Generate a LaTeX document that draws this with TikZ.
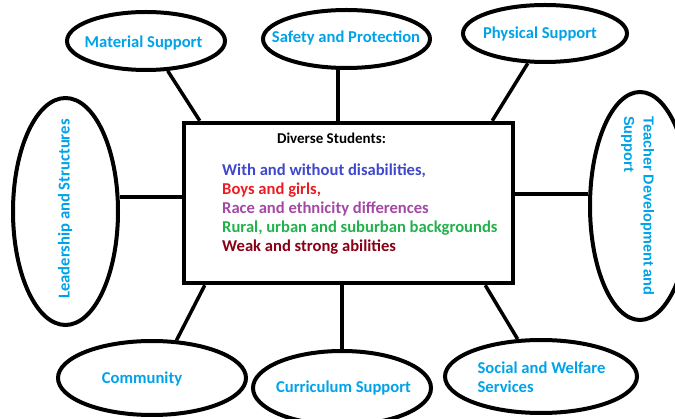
\documentclass[tikz,border=0pt]{standalone}
\usepackage{fontspec}
\setmainfont{Carlito}
\newfontfamily\arialfont{Liberation Sans}
\usetikzlibrary{shapes.geometric,calc}
\definecolor{lblue}{HTML}{00A2E8}
\definecolor{cone}{HTML}{3F48CC}
\definecolor{ctwo}{HTML}{ED1C24}
\definecolor{cthree}{HTML}{A349A4}
\definecolor{cfour}{HTML}{22B14C}
\definecolor{cfive}{HTML}{880015}
\tikzset{
  oval/.style={draw=black, line width=4pt, ellipse, inner sep=0pt},
  lbl/.style={text=lblue, font=\fontsize{16.6}{19}\selectfont\bfseries, inner sep=0pt, align=left},
  link/.style={draw=black, line width=3.5pt},
  centerbox/.style={draw=black, line width=4.5pt, rectangle, inner sep=0pt}
}
\begin{document}
\begin{tikzpicture}[x=1pt,y=-1pt]
\useasboundingbox (0,0) rectangle (675,419);
% central box
\node[centerbox, minimum width=329pt, minimum height=160pt] (box) at (348.5,203) {};
\node[inner sep=0pt, font=\fontsize{15}{16}\selectfont\bfseries] (title) at (331.5,138) {Diverse Students:};
\node[inner sep=0pt, anchor=west, align=left, font=\fontsize{16.6}{19}\selectfont\bfseries] (list) at (222,209)
  {\textcolor{cone}{With and without disabilities,}\\
   \textcolor{ctwo}{Boys and girls,}\\
   \textcolor{cthree}{Race and ethnicity differences}\\
   \textcolor{cfour}{Rural, urban and suburban backgrounds}\\
   \textcolor{cfive}{Weak and strong abilities}};
% ellipses
\node[oval, minimum width=158pt, minimum height=58pt] (mat) at (146,41) {};
\node[oval, minimum width=167pt, minimum height=58pt] (saf) at (346.5,39) {};
\node[oval, minimum width=164pt, minimum height=57pt] (phy) at (545,33.5) {};
\node[oval, minimum width=105pt, minimum height=227pt] (lead) at (65.5,211.5) {};
\node[oval, minimum width=100pt, minimum height=228pt] (tea) at (640,206) {};
\node[oval, minimum width=188pt, minimum height=74pt] (com) at (152,378) {};
\node[oval, minimum width=178pt, minimum height=74pt] (cur) at (342,388) {};
\node[oval, minimum width=192pt, minimum height=73pt] (soc) at (541,376.5) {};
% labels
\node[lbl] (matt) at (143.5,43) {Material Support};
\node[lbl] (saft) at (346,38) {Safety and Protection};
\node[lbl] (phyt) at (540,34) {Physical Support};
\node[lbl, rotate=90] (leadt) at (65,209) {Leadership and Structures};
\node[lbl, rotate=-90, font=\arialfont\fontsize{14.5}{19.5}\selectfont\bfseries] (teat) at (637.5,206) {Teacher Development and\\Support};
\node[lbl] (comt) at (142,379) {Community};
\node[lbl] (curt) at (343.5,388) {Curriculum Support};
\node[lbl] (soct) at (541.5,377.5) {Social and Welfare\\Services};
% connectors
\draw[link] (mat.-54) -- ($(box.north west)+(18,0)$);
\draw[link] ([xshift=-8.5pt]saf.south) -- ([xshift=-8.5pt]saf.south |- box.north);
\draw[link] (phy.-120) -- ($(box.north east)+(-23,0)$);
\draw[link] ([yshift=6pt]box.west) -- ([yshift=6pt]box.west -| lead.east);
\draw[link] ([yshift=9pt]box.east) -- ([yshift=9pt]box.east -| tea.west);
\draw[link] ($(box.south west)+(23,0)$) -- (com.57);
\draw[link] (box.south -| cur.north) -- (cur.north);
\draw[link] ($(box.south east)+(-30,0)$) -- (soc.122);
\end{tikzpicture}
\end{document}
